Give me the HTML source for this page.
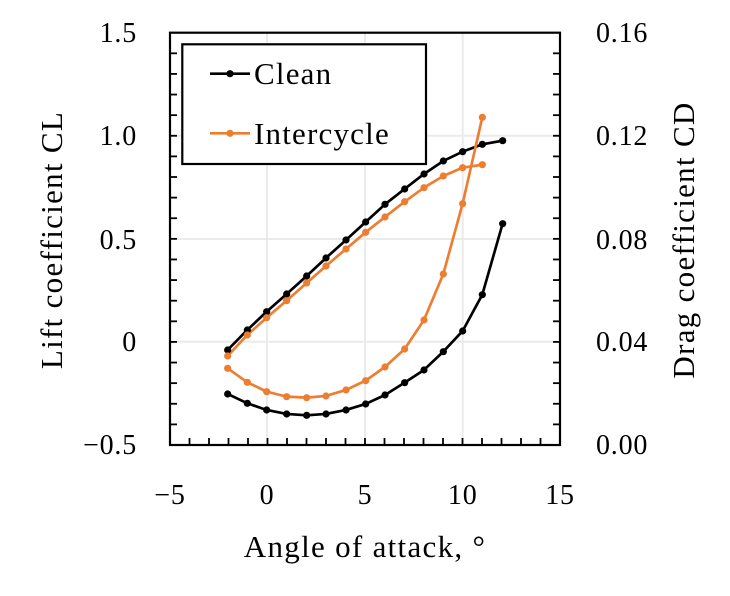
<!DOCTYPE html>
<html><head><style>body{margin:0;background:#fff}</style></head><body>
<svg width="730" height="591" xmlns="http://www.w3.org/2000/svg" font-family="'Liberation Serif', serif">
<rect width="730" height="591" fill="#fff"/>
<g stroke="#ebebeb" stroke-width="2">
<line x1="267" y1="33" x2="267" y2="445"/><line x1="365" y1="33" x2="365" y2="445"/><line x1="462.7" y1="33" x2="462.7" y2="445"/>
<line x1="170" y1="135.7" x2="560" y2="135.7"/><line x1="170" y1="239" x2="560" y2="239"/><line x1="170" y1="341.7" x2="560" y2="341.7"/>
</g>
<g stroke="#000" stroke-width="1.8" id="ticks"></g>
<rect x="170" y="32.7" width="390" height="412.3" fill="none" stroke="#000" stroke-width="2.2"/>
<g transform="translate(150,20) scale(0.3333)" fill="none" stroke-width="8" stroke-linejoin="round">
<polyline stroke="#000" points="233,990 292,930 350,875 410,822 470,768 528,714 588,660 647,606 705,553 764,507 822,462 880,423 938,395 997,373 1058,362"/>
<polyline stroke="#ed7d31" points="233,1008 292,945 350,893 410,842 470,789 528,738 588,687 647,637 705,591 764,545 822,503 880,468 938,443 997,434"/>
<polyline stroke="#000" points="233,1122 292,1150 350,1170 410,1182 470,1186 528,1182 588,1170 647,1152 705,1125 764,1088 822,1050 880,995 938,933 997,824 1058,611"/>
<polyline stroke="#ed7d31" points="233,1045 292,1087 350,1115 410,1130 470,1133 528,1128 588,1110 647,1082 705,1041 764,987 822,900 880,762 938,551 997,292"/>
</g>
<g id="dots"></g>
<rect x="182.3" y="44.3" width="243.7" height="119.7" fill="#fff" stroke="#000" stroke-width="2.2"/>
<line x1="210" y1="73.7" x2="250" y2="73.7" stroke="#000" stroke-width="2.7"/><circle cx="230" cy="73.7" r="3.6" fill="#000"/>
<line x1="210" y1="133.3" x2="250" y2="133.3" stroke="#ed7d31" stroke-width="2.7"/><circle cx="230" cy="133.3" r="3.6" fill="#ed7d31"/>
<g font-size="31" fill="#000" letter-spacing="1.2">
<text x="254" y="84">Clean</text><text x="254" y="144">Intercycle</text>
</g>
<g font-size="28" fill="#000" text-anchor="end" letter-spacing="0.8">
<text x="137" y="42">1.5</text><text x="137" y="145">1.0</text><text x="137" y="249">0.5</text><text x="137" y="351">0</text><text x="137" y="454">−0.5</text>
</g>
<g font-size="28" fill="#000" letter-spacing="0.8">
<text x="596" y="42">0.16</text><text x="596" y="145">0.12</text><text x="596" y="249">0.08</text><text x="596" y="351">0.04</text><text x="596" y="454">0.00</text>
</g>
<g font-size="28" fill="#000" text-anchor="middle" letter-spacing="0.8">
<text x="170" y="504">−5</text><text x="267" y="504">0</text><text x="365" y="504">5</text><text x="462.7" y="504">10</text><text x="560" y="504">15</text>
</g>
<g font-size="31" fill="#000" text-anchor="middle" letter-spacing="1.3">
<text x="365" y="557">Angle of attack, °</text>
<text transform="translate(62,240) rotate(-90)">Lift coefficient CL</text>
<text transform="translate(694,240) rotate(-90)">Drag coefficient CD</text>
</g>
<script>
var ns="http://www.w3.org/2000/svg",t=document.getElementById('ticks');
function L(a,b,c,d){var l=document.createElementNS(ns,'line');l.setAttribute('x1',a);l.setAttribute('y1',b);l.setAttribute('x2',c);l.setAttribute('y2',d);t.appendChild(l);}
for(var i=1;i<20;i++){var y=32.7+i*412.3/20;L(170,y,177,y);L(560,y,553,y);}
for(var i=1;i<20;i++){var x=170+i*19.5;L(x,445,x,438);}
var d=document.getElementById('dots');
var S=[["#000","233,990 292,930 350,875 410,822 470,768 528,714 588,660 647,606 705,553 764,507 822,462 880,423 938,395 997,373 1058,362"],
["#ed7d31","233,1008 292,945 350,893 410,842 470,789 528,738 588,687 647,637 705,591 764,545 822,503 880,468 938,443 997,434"],
["#000","233,1122 292,1150 350,1170 410,1182 470,1186 528,1182 588,1170 647,1152 705,1125 764,1088 822,1050 880,995 938,933 997,824 1058,611"],
["#ed7d31","233,1045 292,1087 350,1115 410,1130 470,1133 528,1128 588,1110 647,1082 705,1041 764,987 822,900 880,762 938,551 997,292"]];
S.forEach(function(s){s[1].split(' ').forEach(function(p){var q=p.split(',');var c=document.createElementNS(ns,'circle');c.setAttribute('cx',150+q[0]/3);c.setAttribute('cy',20+q[1]/3);c.setAttribute('r',3.6);c.setAttribute('fill',s[0]);d.appendChild(c);});});
</script>
</svg>
</body></html>
